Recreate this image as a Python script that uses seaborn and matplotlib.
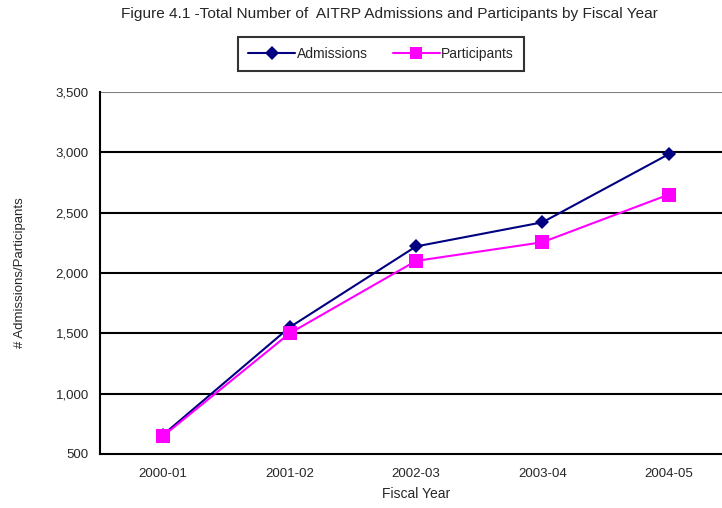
import matplotlib
matplotlib.use("Agg")
import matplotlib.pyplot as plt
import seaborn as sns
import pandas as pd
from matplotlib.ticker import FuncFormatter
from matplotlib.lines import Line2D

years = ["2000-01", "2001-02", "2002-03", "2003-04", "2004-05"]
admissions = [660, 1550, 2220, 2420, 2985]
participants = [650, 1500, 2100, 2255, 2650]

df = pd.DataFrame({
    "Fiscal Year": years * 2,
    "value": admissions + participants,
    "series": ["Admissions"] * 5 + ["Participants"] * 5,
})
df["x"] = list(range(5)) * 2

sns.set_style("white")
plt.rcParams["font.family"] = ["Liberation Sans", "DejaVu Sans"]

fig = plt.figure(figsize=(7.22, 5.08), dpi=100)
ax = fig.add_axes([100/722, (508-454)/508, 632/722, (454-92)/508])

sns.lineplot(data=df, x="x", y="value", hue="series", style="series",
             palette={"Admissions": "#000080", "Participants": "#FF00FF"},
             markers={"Admissions": "D", "Participants": "s"},
             dashes=False, linewidth=1.5, ax=ax, legend=False)
for line, ms in zip(ax.get_lines(), [7, 10]):
    line.set_markersize(ms)
    line.set_markeredgewidth(0)
    line.set_clip_on(False)

ax.set_xlim(-0.5, 4.5)
ax.set_ylim(500, 3500)
ax.set_yticks(range(500, 3501, 500))
ax.yaxis.set_major_formatter(FuncFormatter(lambda v, p: f"{int(v):,}"))
ax.set_xticks(range(5))
ax.set_xticklabels(years)
ax.set_xticks([i - 0.5 for i in range(6)], minor=True)
ax.tick_params(axis="x", which="major", length=0, pad=10, labelsize=9.5)
ax.tick_params(axis="x", which="minor", length=5, width=1.2, color="black", direction="out")
ax.tick_params(axis="y", length=5, width=1.2, color="black", direction="out", labelsize=9.5, pad=3)

for y in range(1000, 3001, 500):
    ax.axhline(y, color="black", linewidth=1.5, zorder=0)
ax.axhline(3500, color="#808080", linewidth=1.5, zorder=0)

for s in ["top", "right"]:
    ax.spines[s].set_visible(False)
for s in ["left", "bottom"]:
    ax.spines[s].set_color("black")
    ax.spines[s].set_linewidth(1.5)

ax.set_xlabel("Fiscal Year", fontsize=10, labelpad=5)
ax.set_ylabel("# Admissions/Participants", fontsize=9.5, labelpad=21)

fig.text(389/722, 1 - 14/508, "Figure 4.1 -Total Number of  AITRP Admissions and Participants by Fiscal Year",
         ha="center", va="center", fontsize=11.1)

handles = [Line2D([], [], color="#000080", marker="D", markersize=7, linewidth=1.5, markeredgewidth=0),
           Line2D([], [], color="#FF00FF", marker="s", markersize=9, linewidth=1.5, markeredgewidth=0)]
leg = fig.legend(handles, ["Admissions", "Participants"], loc="center",
                 bbox_to_anchor=(381/722, 1 - 54/508), ncol=2, fontsize=10,
                 frameon=True, fancybox=False, edgecolor="black", handlelength=3.4,
                 columnspacing=1.8, borderpad=0.75, handletextpad=0.1, borderaxespad=0)
leg.get_frame().set_linewidth(1.5)

fig.savefig("out.png", dpi=100)
